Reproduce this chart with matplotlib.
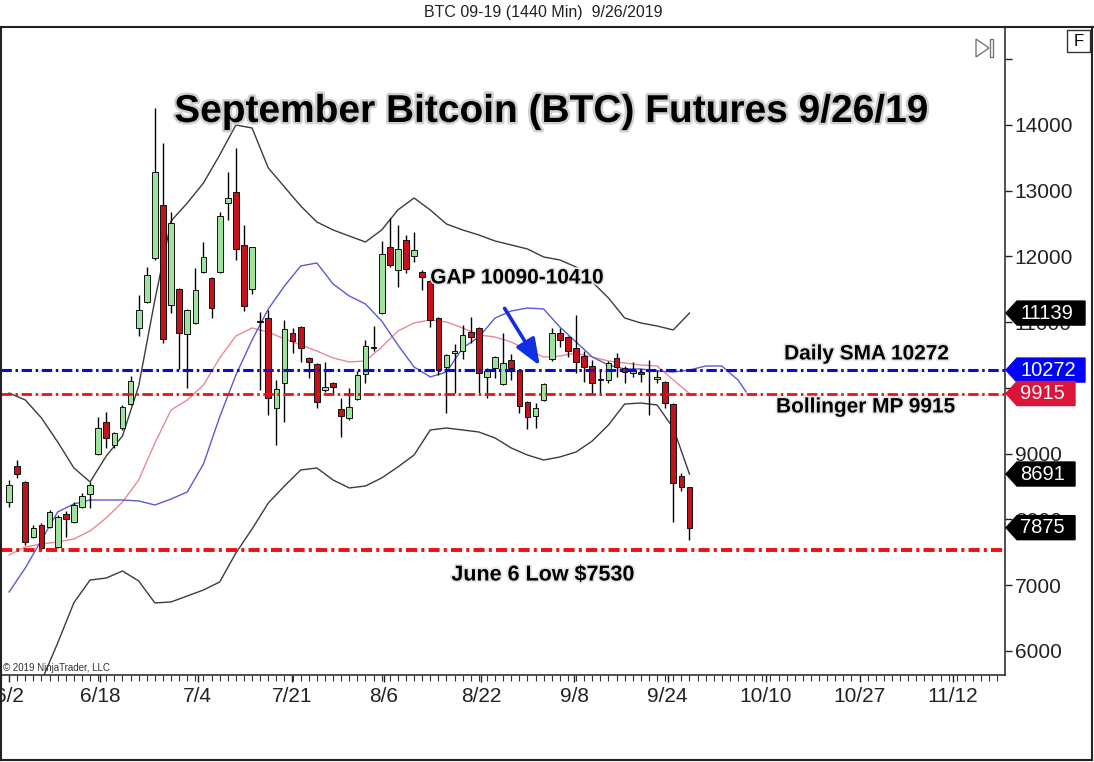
import numpy as np
import matplotlib
matplotlib.use("Agg")
import matplotlib.pyplot as plt
from matplotlib.patches import Polygon, Rectangle
from matplotlib.lines import Line2D
import matplotlib.patheffects as pe

plt.rcParams['font.family'] = ['Liberation Sans', 'DejaVu Sans']
plt.rcParams['lines.scale_dashes'] = False

# ---------------- data (daily bars, 1440 min) ----------------
OPEN = [8266, 8818, 8574, 7733, 7916, 7885, 7586, 8083, 7961, 8194,
        8387, 8996, 9487, 9133, 9387, 9756, 10908, 11312, 11972, 12783,
        11262, 11505, 10816, 10984, 11768, 11677, 11768, 12818, 12985, 12175,
        11501, 11020, 11069, 9691, 10071, 10831, 10923, 10451, 10365, 9969,
        10080, 9676, 9539, 9828, 10208, 10620, 11136, 12140, 11794, 12251,
        12007, 11759, 11632, 11060, 10324, 10535, 10567, 10856, 10917, 10171,
        10299, 10060, 10425, 10273, 9791, 9574, 9817, 10436, 10831, 10780,
        10603, 10486, 10339, 10115, 10121, 10451, 10299, 10232, 10230, 10280,
        10132, 10095, 9756, 8661, 8489]
HIGH = [8600, 8904, 8590, 7916, 7946, 8144, 8068, 8133, 8270, 8403,
        8574, 9563, 9639, 9335, 9741, 10182, 11414, 11845, 14254, 13721,
        12681, 11520, 11200, 11820, 12225, 11690, 12670, 13289, 13645, 12479,
        12150, 11160, 11186, 10121, 11034, 10908, 10935, 10476, 10380, 10400,
        10095, 9843, 9995, 10258, 10730, 10943, 12235, 12590, 12479, 12327,
        12377, 11794, 11650, 11075, 10515, 10669, 10958, 11084, 10930, 10299,
        10490, 10831, 10517, 10285, 9800, 9767, 10071, 10908, 10908, 10790,
        11110, 10567, 10425, 10273, 10415, 10537, 10339, 10400, 10273, 10425,
        10273, 10110, 9770, 8707, 8500]
LOW = [8190, 8631, 7612, 7718, 7530, 7865, 7561, 7738, 7942, 8170,
       8170, 8981, 9082, 9082, 9361, 9741, 10790, 11288, 11947, 10679,
       11145, 10284, 9995, 10970, 11748, 11060, 11750, 12555, 11947, 11175,
       11429, 9969, 9589, 9133, 9487, 10527, 10400, 10147, 9691, 9943,
       9893, 9259, 9513, 9815, 10071, 10562, 11120, 11845, 11540, 11753,
       11921, 11490, 10932, 10197, 9624, 9919, 10436, 10679, 9928, 9843,
       10147, 10045, 10121, 9615, 9371, 9387, 9805, 10415, 10628, 10476,
       10223, 10095, 9928, 9919, 10071, 10171, 10080, 10171, 10095, 9589,
       10071, 9691, 7966, 8433, 7688]
CLOSE = [8524, 8691, 7662, 7870, 7560, 8118, 8042, 8007, 8220, 8357,
         8524, 9387, 9234, 9315, 9715, 10106, 11186, 11718, 13280, 10740,
         12514, 10831, 11186, 11490, 11997, 11212, 12616, 12894, 12109, 11247,
         12140, 11000, 9843, 9980, 10897, 10719, 10603, 10400, 9791, 10019,
         10019, 9574, 9715, 10197, 10638, 10605, 12033, 11870, 12109, 11805,
         12099, 11692, 11034, 10273, 10501, 10550, 10806, 10780, 10223, 10263,
         10476, 10375, 10299, 9726, 9554, 9691, 10056, 10831, 10730, 10567,
         10400, 10314, 10080, 10125, 10375, 10324, 10247, 10273, 10215, 10266,
         10162, 9776, 8550, 8489, 7875]

# Bollinger bands (read every second bar)
BAND_BARS = list(range(0, 85, 2))
UPPER_BAND = [9923, 9817, 9543, 9178, 8783, 8570, 8966, 9270, 10030, 11338,
              12540, 12813, 13118, 13543, 14000, 13954, 13346, 13057, 12768, 12524,
              12403, 12311, 12220, 12403, 12707, 12890, 12707, 12494, 12403, 12327,
              12235, 12175, 12114, 11992, 11947, 11840, 11612, 11369, 11064, 10988,
              10943, 10882, 11139]
MID_BAND = [7460, 7581, 7627, 7657, 7703, 7825, 8023, 8266, 8600, 9163,
            9665, 9817, 10045, 10456, 10791, 10912, 10851, 10745, 10654, 10562,
            10456, 10395, 10410, 10623, 10866, 10988, 11034, 11003, 10912, 10806,
            10775, 10699, 10577, 10471, 10486, 10532, 10471, 10410, 10380, 10349,
            10334, 10121, 9915]
LOWER_BAND = [4341, 4950, 5543, 6121, 6734, 7079, 7109, 7216, 7064, 6730,
              6745, 6836, 6927, 7049, 7490, 7855, 8250, 8509, 8752, 8783,
              8600, 8479, 8509, 8631, 8798, 8980, 9361, 9391, 9361, 9330,
              9239, 9087, 8980, 8904, 8950, 9026, 9193, 9437, 9756, 9771,
              9741, 9391, 8691]
# displaced moving average (extends past last bar)
SMA_BARS = list(range(0, 91, 2)) + [91]
SMA_LINE = [6897, 7262, 7688, 8114, 8235, 8296, 8296, 8296, 8281, 8220,
            8311, 8418, 8844, 9559, 10197, 10730, 11201, 11551, 11855, 11901,
            11581, 11399, 11277, 11019, 10654, 10319, 10167, 10243, 10608, 10775,
            11064, 11171, 11216, 11201, 10927, 10699, 10471, 10349, 10289, 10289,
            10258, 10243, 10273, 10334, 10334, 10121, 9939]

SMA_LEVEL = 10272
BOLL_MP_LEVEL = 9915
JUNE6_LOW = 7530

DATE_LABELS = ["6/2", "6/18", "7/4", "7/21", "8/6", "8/22", "9/8", "9/24",
               "10/10", "10/27", "11/12"]
PRICE_TICKS = [6000, 7000, 8000, 9000, 10000, 11000, 12000, 13000, 14000, 15000]
TAG_VALUES = [11139, 10272, 9915, 8691, 7875]
TAG_COLORS = ["#000000", "#0000ff", "#dc143c", "#000000", "#000000"]

# ---------------- layout ----------------
W, H = 1094, 762
AX_L, AX_R, AX_T, AX_B = 1, 1005, 28, 675
YMIN, YMAX = 5634, 15475
XMIN, XMAX = -0.99, 122.96
DATE_POS = [0.0, 11.2, 23.3, 34.9, 46.3, 58.3, 69.8, 81.3, 93.4, 105.0, 116.5]

fig = plt.figure(figsize=(W / 100, H / 100), dpi=100)
ax = fig.add_axes([AX_L / W, 1 - AX_B / H, (AX_R - AX_L) / W, (AX_B - AX_T) / H])
ax.set_xlim(XMIN, XMAX)
ax.set_ylim(YMIN, YMAX)

GREEN = "#9ee29e"
RED = "#c4121c"

# indicator lines
ax.plot(BAND_BARS, UPPER_BAND, color="#3c3c3c", lw=1.0, zorder=2)
ax.plot(BAND_BARS, LOWER_BAND, color="#3c3c3c", lw=1.0, zorder=2)
ax.plot(BAND_BARS, MID_BAND, color="#e88a92", lw=1.0, zorder=2)
ax.plot(SMA_BARS, SMA_LINE, color="#5a5ad2", lw=1.0, zorder=2)

# candles
o = np.array(OPEN, float); c = np.array(CLOSE, float)
h = np.array(HIGH, float); l = np.array(LOW, float)
idx = np.arange(len(o))
up = c >= o
bottom = np.minimum(o, c)
height = np.maximum(np.abs(c - o), 25)
ax.vlines(idx, l, h, color="black", lw=1.0, zorder=3)
ax.bar(idx, height, bottom=bottom, width=0.7,
       color=np.where(up, GREEN, RED), edgecolor="#111111", linewidth=0.7, zorder=4)

# horizontal levels
dd = (7.5, 2.6, 1.8, 2.6)
ax.axhline(SMA_LEVEL, color="#0a0ad0", lw=2.2, dashes=dd, zorder=5)
ax.axhline(BOLL_MP_LEVEL, color="#ee1111", lw=2.0, dashes=dd, zorder=5)
ax.axhline(JUNE6_LOW, color="#ee1111", lw=2.8, dashes=(8, 3, 2.2, 3), zorder=5)

# annotations
glow = [pe.withStroke(linewidth=2.5, foreground="#e6e6e6")]
ax.text(52.0, 11673, "GAP 10090-10410", fontsize=15, fontweight="bold",
        ha="left", va="center", zorder=6, path_effects=glow)
ax.text(105.9, 10517, "Daily SMA 10272", fontsize=15, fontweight="bold",
        ha="center", va="center", zorder=6, path_effects=glow)
ax.text(105.8, 9711, "Bollinger MP 9915", fontsize=15, fontweight="bold",
        ha="center", va="center", zorder=6, path_effects=glow)
ax.text(65.9, 7155, "June 6 Low $7530", fontsize=15.5, fontweight="bold",
        ha="center", va="center", zorder=6, path_effects=glow)
ax.annotate("", xy=(65.7, 10304), xytext=(61.0, 11247),
            arrowprops=dict(arrowstyle="-|>,head_length=0.8,head_width=0.32",
                            color="#1030e0", lw=2.6, mutation_scale=20),
            zorder=6)

fig.text(551 / W, 1 - 112 / H, "September Bitcoin (BTC) Futures 9/26/19",
         fontsize=28, fontweight="bold", ha="center", va="center",
         path_effects=[pe.withStroke(linewidth=3.5, foreground="#cfcfcf")])

# axes styling
for s in ["top"]:
    ax.spines[s].set_visible(False)
for s in ["left", "right", "bottom"]:
    ax.spines[s].set_color("#333333")
    ax.spines[s].set_linewidth(1.2)
ax.yaxis.tick_right()
ax.set_yticks(PRICE_TICKS)
ax.set_yticklabels([str(v) if v < 15000 else "" for v in PRICE_TICKS])
ax.tick_params(axis="y", length=5, width=1, pad=2, labelsize=15, colors="#222222")
ax.set_xticks(DATE_POS)
ax.set_xticklabels(DATE_LABELS)
ax.set_xticks(np.arange(-1, 123), minor=True)
ax.tick_params(axis="x", which="major", length=5, width=1, pad=4, labelsize=15,
               colors="#222222")
ax.tick_params(axis="x", which="minor", length=4, width=0.8, colors="#333333")

# price tags on the right axis
def ypx(price):
    return AX_T + (YMAX - price) / (YMAX - YMIN) * (AX_B - AX_T)

for val, col in zip(TAG_VALUES, TAG_COLORS):
    yc = ypx(val)
    txt = str(val)
    right = 1085 if len(txt) == 5 else 1075
    pts = [(1006, yc), (1017, yc - 12), (right, yc - 12), (right, yc + 12), (1017, yc + 12)]
    fig.add_artist(Polygon([(x / W, 1 - y / H) for x, y in pts], closed=True,
                           transform=fig.transFigure, facecolor=col, edgecolor=col, zorder=5))
    fig.text(1020 / W, 1 - yc / H, txt, color="white", fontsize=14.5,
             ha="left", va="center", zorder=6)

# frame and chrome
frame = dict(transform=fig.transFigure, color="#222222", lw=1.5)
fig.add_artist(Line2D([0, 1], [1 - 27 / H] * 2, **frame))
fig.add_artist(Line2D([0.6 / W] * 2, [1 - 27 / H, 1 - 760 / H], **frame))
fig.add_artist(Line2D([1092 / W] * 2, [1 - 27 / H, 1 - 760 / H], **frame))
fig.add_artist(Line2D([0, 1092 / W], [1 - 760 / H] * 2, **frame))

fig.text(543 / W, 1 - 13 / H, "BTC 09-19 (1440 Min)  9/26/2019",
         fontsize=11.5, ha="center", va="center", color="#222222")
fig.text(3 / W, 1 - 668 / H, "© 2019 NinjaTrader, LLC", fontsize=7,
         ha="left", va="center", color="#333333")

fig.add_artist(Rectangle((1067 / W, 1 - 52 / H), 23 / W, 22 / H, transform=fig.transFigure,
                         fill=False, edgecolor="#333333", lw=1))
fig.text(1078.5 / W, 1 - 41.5 / H, "F", fontsize=12, ha="center", va="center")
fig.add_artist(Polygon([(976 / W, 1 - 39 / H), (976 / W, 1 - 57 / H), (989 / W, 1 - 48 / H)],
                       closed=True, transform=fig.transFigure, fill=False,
                       edgecolor="#777777", lw=1))
fig.add_artist(Rectangle((990 / W, 1 - 57 / H), 3 / W, 18 / H, transform=fig.transFigure,
                         fill=False, edgecolor="#777777", lw=1))

fig.savefig("out.png", dpi=100, facecolor="white")
